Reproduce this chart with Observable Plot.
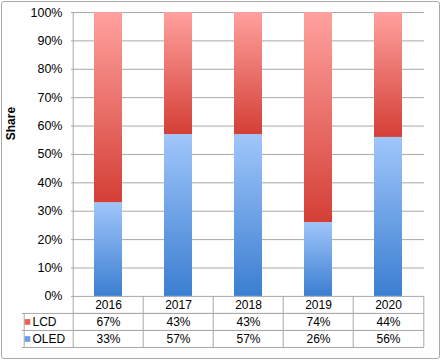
<!DOCTYPE html>
<html>
<head>
<meta charset="utf-8">
<script src="https://cdn.jsdelivr.net/npm/d3@7"></script>
<script src="https://cdn.jsdelivr.net/npm/@observablehq/plot@0.6"></script>
<style>
  html, body { margin: 0; padding: 0; background: #fff; }
  #wrap { position: relative; width: 441px; height: 360px; }
  #border { position: absolute; left: 1px; top: 1px; width: 439px; height: 358px; box-sizing: border-box;
            border: 1px solid #a9a9a9; border-radius: 3px; pointer-events: none; }
</style>
</head>
<body>
<div id="wrap"><div id="border"></div></div>
<script>
const years = ["2016", "2017", "2018", "2019", "2020"];
const lcd = [67, 43, 43, 74, 44];
const oled = [33, 57, 57, 26, 56];
const series = ["LCD", "OLED"];
const yTicks = [0, 10, 20, 30, 40, 50, 60, 70, 80, 90, 100];
const tableRows = [-6, -12, -18];

const data = years.map((year, i) => ({year, lcd: lcd[i], oled: oled[i]}));

const W = 441, H = 360, mL = 71, mR = 17, mT = 12, mB = 13;
const bw = (W - mL - mR) / years.length;
const legendW = 49;
const grid = "#a8a8a8";
const font = "'Liberation Sans', Arial, Helvetica, sans-serif";

const plot = Plot.plot({
  width: W, height: H,
  marginLeft: mL, marginRight: mR, marginTop: mT, marginBottom: mB,
  style: {fontFamily: font, fontSize: "12px", color: "black", background: "transparent"},
  x: {domain: years, padding: 0, axis: null},
  y: {domain: [-18, 100], axis: null},
  marks: [
    Plot.ruleY(yTicks, {y: d => d, stroke: grid, strokeWidth: 1}),
    Plot.ruleY(tableRows, {y: d => d, stroke: grid}),
    Plot.ruleY(tableRows, {y: d => d, stroke: grid, dx: -legendW}),
    Plot.ruleX([years[0]], {x: d => d, y1: -18, y2: 100, stroke: grid, dx: -bw / 2}),
    Plot.ruleX(years.slice(1), {x: d => d, y1: 0, y2: -18, stroke: grid, dx: -bw / 2}),
    Plot.ruleX([years[years.length - 1]], {x: d => d, y1: 0, y2: -18, stroke: grid, dx: bw / 2}),
    Plot.ruleX([years[0]], {x: d => d, y1: -6, y2: -18, stroke: grid, dx: -bw / 2 - legendW}),
    Plot.barY(data, {x: "year", y1: 0, y2: "oled", fill: "url(#gOled)", insetLeft: 21, insetRight: 21}),
    Plot.barY(data, {x: "year", y1: "oled", y2: d => d.oled + d.lcd, fill: "url(#gLcd)", insetLeft: 21, insetRight: 21}),
    Plot.text(yTicks, {y: d => d, text: d => d + "%", frameAnchor: "left", dx: -9, textAnchor: "end", fontSize: 12.5, fill: "black"}),
    Plot.text(["Share"], {y: [55], text: d => d, frameAnchor: "left", dx: -60, rotate: -90, fontWeight: "bold", fontSize: 12, fill: "black"}),
    Plot.text(years, {x: d => d, y: [-3, -3, -3, -3, -3], text: d => d, fill: "black"}),
    Plot.text(data, {x: "year", y: d => -9, text: d => d.lcd + "%", fill: "black"}),
    Plot.text(data, {x: "year", y: d => -15, text: d => d.oled + "%", fill: "black"}),
    Plot.dot(series, {y: (d, i) => i === 0 ? -9 : -15, frameAnchor: "left", dx: -44, symbol: "square", r: 3.2,
      fill: (d, i) => i === 0 ? "#e8615c" : "#6aa0e6", stroke: "none"}),
    Plot.text(series, {y: (d, i) => i === 0 ? -9 : -15, text: d => d, frameAnchor: "left", dx: -39, textAnchor: "start", fill: "black"})
  ]
});

const svg = d3.select(plot);
const defs = svg.insert("defs", ":first-child");
function grad(id, top, bottom) {
  const g = defs.append("linearGradient").attr("id", id).attr("x1", 0).attr("y1", 0).attr("x2", 0).attr("y2", 1);
  g.append("stop").attr("offset", "0%").attr("stop-color", top);
  g.append("stop").attr("offset", "100%").attr("stop-color", bottom);
}
grad("gLcd", "#ffa19e", "#d43f36");
grad("gOled", "#a0c6fb", "#3b7ed1");

document.getElementById("wrap").insertBefore(plot, document.getElementById("border"));
</script>
</body>
</html>
